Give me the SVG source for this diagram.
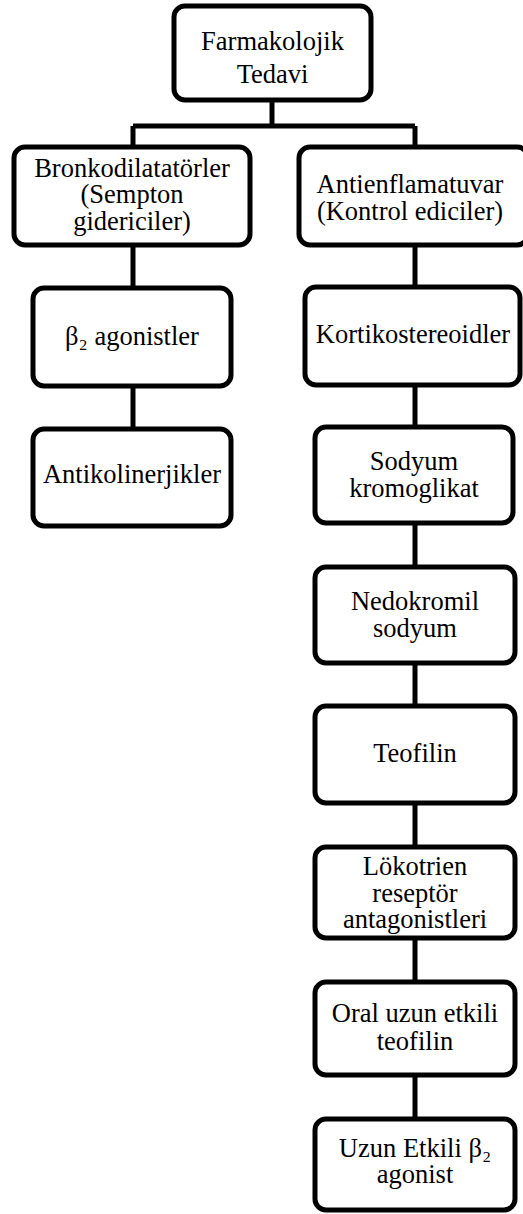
<svg xmlns="http://www.w3.org/2000/svg" width="523" height="1214" viewBox="0 0 523 1214">
<style>
.box{fill:#fff;stroke:#000;stroke-width:5}
.t{font-family:'Liberation Serif',Tinos,'DejaVu Serif',serif;font-size:26.5px;fill:#000;text-anchor:middle}
.c{fill:none;stroke:#000;stroke-width:5}
</style>
<rect width="523" height="1214" fill="#fff"/>
<g id="connectors">
<path class="c" d="M272 100V126M133 126H415M133 126V147M415 126V147"/>
<path class="c" d="M133 245V288M133 386V429"/>
<path class="c" d="M415 245V287M415 385V427M415 523V567M415 663V706M415 803V847M415 938V982M415 1075V1119"/>
</g>
<g id="n-farmakolojik">
<rect class="box" x="174" y="6" width="197" height="94" rx="11"/>
<text class="t" font-family="Liberation Serif, serif" x="272.5" y="50">Farmakolojik</text>
<text class="t" font-family="Liberation Serif, serif" x="272.5" y="83">Tedavi</text>
</g>
<g id="n-bronkodilatatorler">
<rect class="box" x="14" y="147" width="236" height="98" rx="11"/>
<text class="t" x="132" y="177">Bronkodilatatörler</text>
<text class="t" x="132" y="203">(Sempton</text>
<text class="t" x="132" y="230">gidericiler)</text>
</g>
<g id="n-antienflamatuvar">
<rect class="box" x="299" y="147" width="229" height="98" rx="11"/>
<text class="t" x="410" y="193">Antienflamatuvar</text>
<text class="t" x="410" y="220">(Kontrol ediciler)</text>
</g>
<g id="n-beta2">
<rect class="box" x="33" y="288" width="198" height="98" rx="11"/>
<text class="t" x="132" y="345">β₂ agonistler</text>
</g>
<g id="n-antikolinerjikler">
<rect class="box" x="33" y="429" width="198" height="97" rx="11"/>
<text class="t" x="132" y="483">Antikolinerjikler</text>
</g>
<g id="n-kortikostereoidler">
<rect class="box" x="305" y="287" width="215" height="98" rx="11"/>
<text class="t" x="413" y="343">Kortikostereoidler</text>
</g>
<g id="n-sodyum">
<rect class="box" x="315" y="427" width="198" height="96" rx="11"/>
<text class="t" x="414" y="470">Sodyum</text>
<text class="t" x="414" y="497">kromoglikat</text>
</g>
<g id="n-nedokromil">
<rect class="box" x="315" y="567" width="200" height="96" rx="11"/>
<text class="t" x="415" y="610">Nedokromil</text>
<text class="t" x="415" y="637">sodyum</text>
</g>
<g id="n-teofilin">
<rect class="box" x="315" y="706" width="200" height="97" rx="11"/>
<text class="t" x="415" y="762">Teofilin</text>
</g>
<g id="n-lokotrien">
<rect class="box" x="315" y="847" width="200" height="91" rx="11"/>
<text class="t" x="415" y="875">Lökotrien</text>
<text class="t" x="415" y="902">reseptör</text>
<text class="t" x="415" y="928">antagonistleri</text>
</g>
<g id="n-oral">
<rect class="box" x="315" y="982" width="200" height="93" rx="11"/>
<text class="t" x="415" y="1022">Oral uzun etkili</text>
<text class="t" x="415" y="1050">teofilin</text>
</g>
<g id="n-uzun">
<rect class="box" x="315" y="1119" width="200" height="91" rx="11"/>
<text class="t" x="415" y="1157">Uzun Etkili β₂</text>
<text class="t" x="415" y="1183">agonist</text>
</g>
</svg>
